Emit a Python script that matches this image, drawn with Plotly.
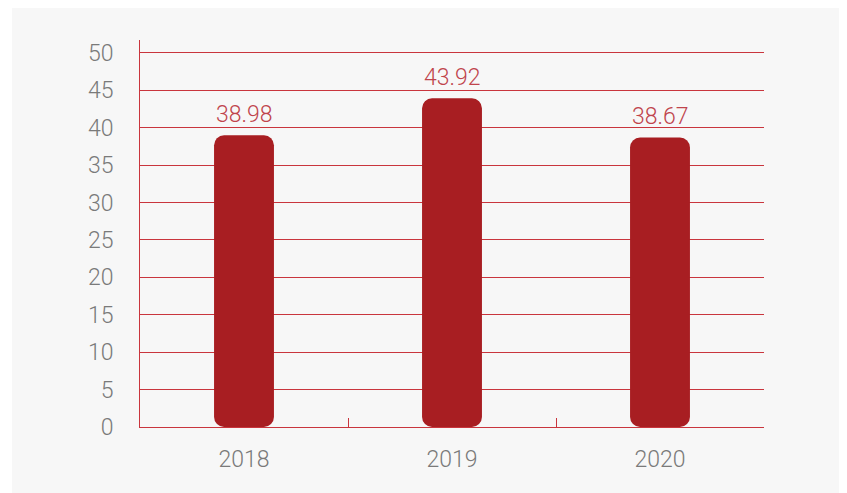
import plotly.graph_objects as go

years = ["2018", "2019", "2020"]
values = [38.98, 43.92, 38.67]
y_ticks = [0, 5, 10, 15, 20, 25, 30, 35, 40, 45, 50]

BAR = "#a81e22"
GRID = "#c9353d"
LABEL_RED = "#c0444c"
TICK_GRAY = "#7a7a7a"
BG = "#f7f7f7"
FONT = "Roboto, Liberation Sans, sans-serif"

fig = go.Figure()
fig.add_trace(go.Bar(
    x=years, y=values, base=[0] * len(values),
    marker=dict(color=BAR, cornerradius=10, line=dict(width=0)),
    hoverinfo="skip", showlegend=False,
))
for i, v in enumerate(values):
    fig.add_annotation(x=i, y=v, text=f"{v:.2f}", showarrow=False,
                       yanchor="middle", yshift=21,
                       font=dict(color=LABEL_RED, size=23, family=FONT, weight=300))

fig.update_layout(
    width=847, height=493,
    margin=dict(l=132, r=91, t=32, b=74),
    paper_bgcolor="white", plot_bgcolor=BG,
    bargap=0.712,
    font=dict(family=FONT, color=TICK_GRAY, size=23, weight=300),
    shapes=[dict(type="rect", xref="paper", yref="paper", layer="below",
                 x0=-128 / 624, x1=1.3, y0=-0.3, y1=1 + 32 / 387,
                 fillcolor=BG, line=dict(width=0))],
)
fig.update_xaxes(
    type="category", range=[-0.5, len(years) - 0.5],
    showline=True, linecolor=GRID, linewidth=1,
    ticks="inside", tickson="boundaries", ticklen=9, tickcolor=GRID,
    showgrid=False, ticklabelstandoff=11,
    tickfont=dict(size=23, color=TICK_GRAY, family=FONT, weight=300),
)
fig.update_yaxes(
    range=[0, 51.7], tickvals=y_ticks, showline=True, linecolor=GRID, linewidth=1,
    showgrid=True, gridcolor=GRID, gridwidth=1, zeroline=False, ticks="",
    ticklabelstandoff=21,
    tickfont=dict(size=23, color=TICK_GRAY, family=FONT, weight=300),
)

fig.write_html("out.html")
